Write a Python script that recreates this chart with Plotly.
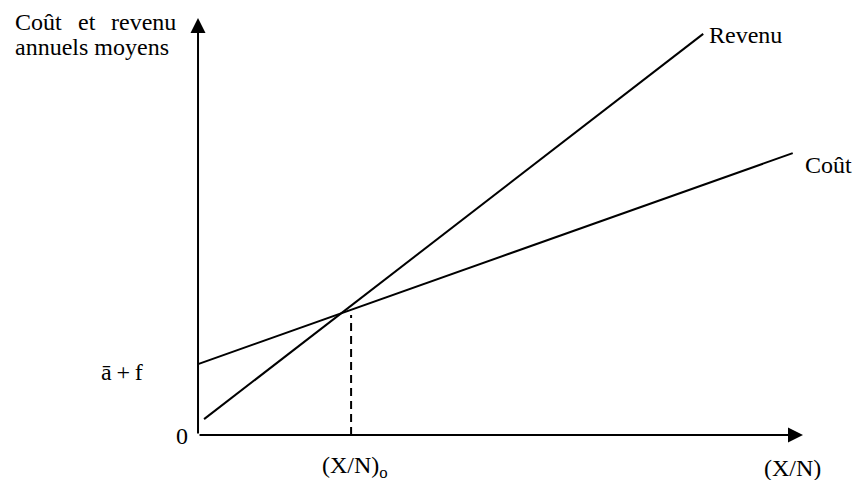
import plotly.graph_objects as go

# Data (abstract units: origin at 0, arrow tips at 10)
cost_x = [0.0, 9.83]
cost_y = [1.70, 6.76]
revenue_x = [0.10, 8.35]
revenue_y = [0.38, 9.62]
breakeven_x = [2.53, 2.53]
breakeven_y = [0.0, 2.88]
axis_max = 10

FONT = dict(family="Liberation Serif, Times New Roman, serif", size=24, color="black")
LINE = dict(color="black", width=2)

fig = go.Figure()
fig.add_trace(go.Scatter(x=revenue_x, y=revenue_y, mode="lines", line=LINE, name="Revenu"))
fig.add_trace(go.Scatter(x=cost_x, y=cost_y, mode="lines", line=LINE, name="Coût"))
fig.add_trace(go.Scatter(x=breakeven_x, y=breakeven_y, mode="lines",
                         line=dict(color="black", width=2, dash="8px,5px")))

# axes with arrow heads
for tip in [(0, axis_max), (axis_max, 0)]:
    fig.add_annotation(x=tip[0], y=tip[1], ax=0, ay=0, axref="x", ayref="y",
                       text="", showarrow=True, arrowhead=2, arrowwidth=2,
                       arrowsize=1.5, arrowcolor="black", standoff=0, startstandoff=0)

labels = [
    # text, x, y, xanchor
    ("Coût", -3.06, 9.9, "left"),
    ("et", -1.83, 9.9, "center"),
    ("revenu", -0.33, 9.9, "right"),
    ("annuels moyens", -3.06, 9.3, "left"),
    ("ā\u2009+\u2009f", -0.88, 1.51, "right"),
    ("0", -0.13, -0.02, "right"),
    ("(X/N)<sub>o</sub>", 2.6, -0.76, "center"),
    ("(X/N)", 9.83, -0.78, "center"),
    ("Revenu", 8.41, 9.59, "left"),
    ("Coût", 10.0, 6.47, "left"),
]
for text, x, y, xa in labels:
    fig.add_annotation(x=x, y=y, text=text, showarrow=False, xanchor=xa,
                       yanchor="middle", font=FONT)

fig.update_layout(
    width=853, height=480,
    margin=dict(l=0, r=0, t=0, b=0),
    paper_bgcolor="white", plot_bgcolor="white",
    showlegend=False,
    xaxis=dict(range=[-3.273, 10.826], visible=False),
    yaxis=dict(range=[-1.079, 10.432], visible=False),
)

# drop the default 8px page margin so the figure fills the window
fig.write_html("out.html", config={"displayModeBar": False},
               post_script="document.body.style.margin='0';document.body.style.overflow='hidden';")
